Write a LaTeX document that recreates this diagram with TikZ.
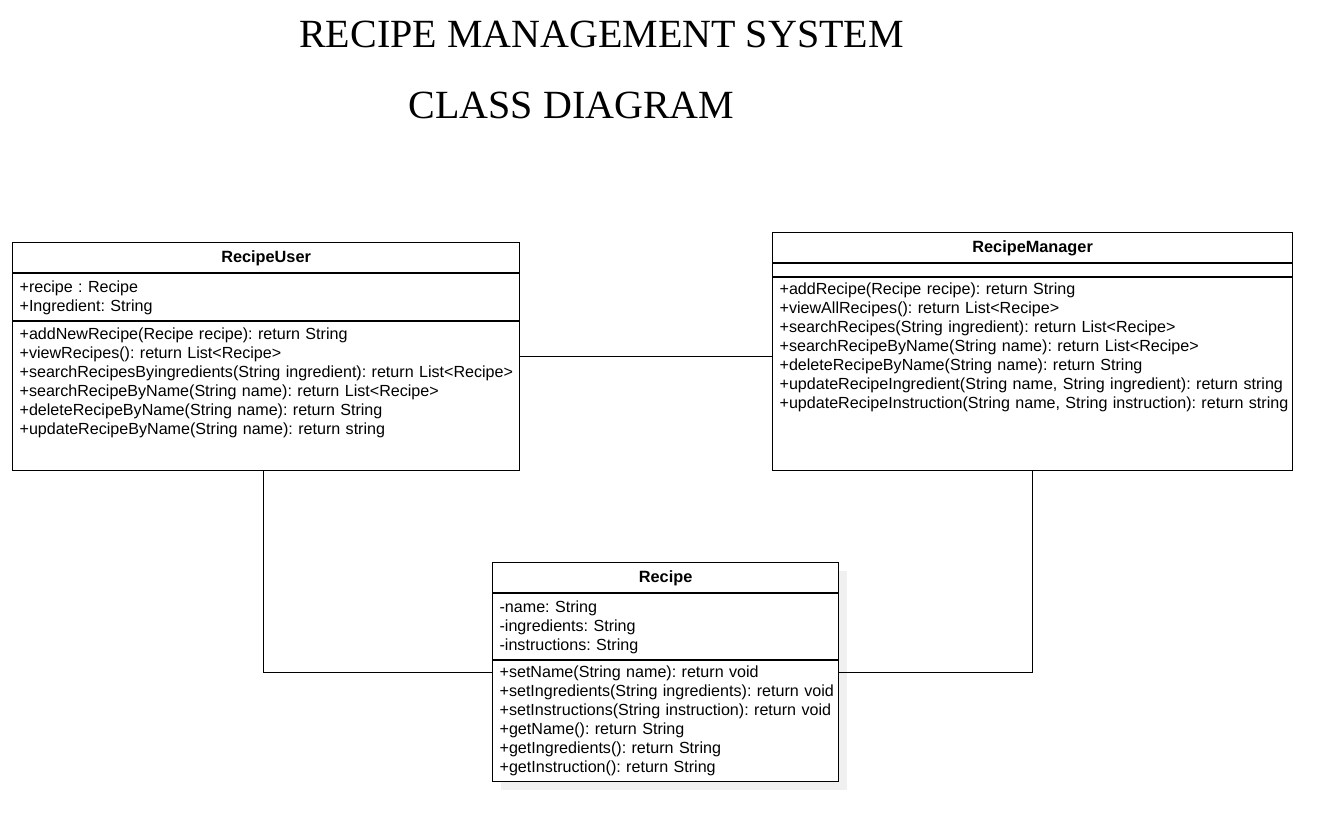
\documentclass[tikz,border=0pt]{standalone}
\usepackage{fontspec}
\setmainfont{Liberation Sans}
\newfontfamily\titlefont{Liberation Serif}
\usepackage{tikz}
\usetikzlibrary{shadows}
\frenchspacing

\tikzset{
  classbox/.style={rectangle, draw, fill=white, anchor=north west, inner sep=0pt},
  classname/.style={anchor=base, font=\bfseries\fontsize{16.3}{19}\selectfont},
  members/.style={anchor=north west, align=left, inner sep=0pt, text width=#1, font=\fontsize{16.1}{19}\selectfont},
  members/.default=515pt,
  heading/.style={anchor=base, font=\titlefont\fontsize{40}{47}\selectfont}
}

\begin{document}
\begin{tikzpicture}[x=1pt, y=-1pt, line width=1.2pt]
        \useasboundingbox (0,0) rectangle (1342,831);

        % Title
        \node [heading] (title) at (601.5,47) {RECIPE MANAGEMENT SYSTEM};
        \node [heading] (subtitle) at (571.5,118) {CLASS DIAGRAM};

        % Classes
        \node [classbox, minimum width=507pt, minimum height=228pt] (user) at (12,242) {};
        \node [classbox, minimum width=520pt, minimum height=238pt] (manager) at (772,232) {};
        \node [classbox, minimum width=346pt, minimum height=219pt,
               drop shadow={shadow xshift=8pt, shadow yshift=-8pt, fill=black!6, opacity=1}] (recipe) at (492,562) {};

        % Compartments
        \draw ([yshift=-31pt]user.north west) -- ([yshift=-31pt]user.north east);
        \draw ([yshift=-79pt]user.north west) -- ([yshift=-79pt]user.north east);
        \draw ([yshift=-31pt]manager.north west) -- ([yshift=-31pt]manager.north east);
        \draw ([yshift=-45pt]manager.north west) -- ([yshift=-45pt]manager.north east);
        \draw ([yshift=-31pt]recipe.north west) -- ([yshift=-31pt]recipe.north east);
        \draw ([yshift=-98pt]recipe.north west) -- ([yshift=-98pt]recipe.north east);

        % Names
        \node [classname] (username) at ([yshift=-20.5pt]user.north) {RecipeUser};
        \node [classname] (managername) at ([yshift=-20.5pt]manager.north) {RecipeManager};
        \node [classname] (recipename) at ([yshift=-20.5pt]recipe.north) {Recipe};

        % Members
        \node [members] (userattr) at ([xshift=7pt, yshift=-38pt]user.north west)
            {+recipe : Recipe\\+Ingredient: String};
        \node [members] (userops) at ([xshift=7pt, yshift=-85pt]user.north west)
            {+addNewRecipe(Recipe recipe): return String\\
             +viewRecipes(): return List<Recipe>\\
             +searchRecipesByingredients(String ingredient): return List<Recipe>\\
             +searchRecipeByName(String name): return List<Recipe>\\
             +deleteRecipeByName(String name): return String\\
             +updateRecipeByName(String name): return string};
        \node [members] (managerops) at ([xshift=7pt, yshift=-50pt]manager.north west)
            {+addRecipe(Recipe recipe): return String\\
             +viewAllRecipes(): return List<Recipe>\\
             +searchRecipes(String ingredient): return List<Recipe>\\
             +searchRecipeByName(String name): return List<Recipe>\\
             +deleteRecipeByName(String name): return String\\
             +updateRecipeIngredient(String name, String ingredient): return string\\
             +updateRecipeInstruction(String name, String instruction): return string};
        \node [members] (recipeattr) at ([xshift=7pt, yshift=-38pt]recipe.north west)
            {-name: String\\-ingredients: String\\-instructions: String};
        \node [members] (recipeops) at ([xshift=7pt, yshift=-103pt]recipe.north west)
            {+setName(String name): return void\\
             +setIngredients(String ingredients): return void\\
             +setInstructions(String instruction): return void\\
             +getName(): return String\\
             +getIngredients(): return String\\
             +getInstruction(): return String};

        % Associations
        \draw (user.east) -- (user.east -| manager.west);
        \draw ([xshift=-3pt]user.south) |- (recipe.west);
        \draw (manager.south) |- (recipe.east);
    \end{tikzpicture}
\end{document}
